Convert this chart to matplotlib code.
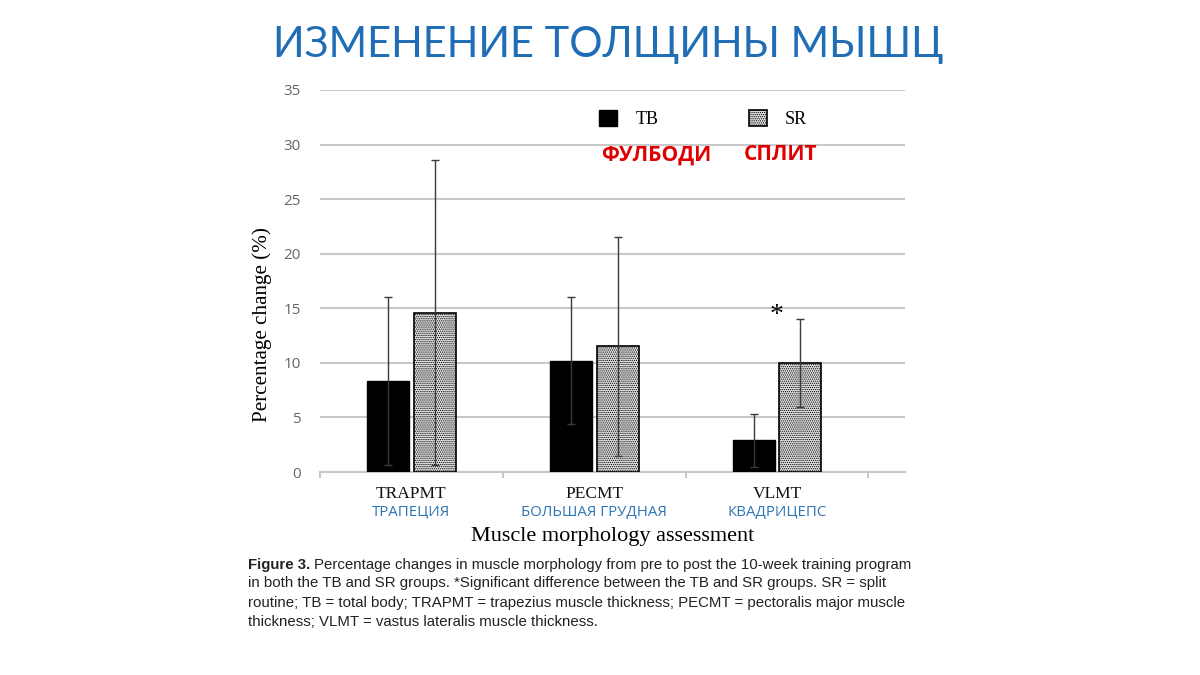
import numpy as np
import matplotlib.pyplot as plt
from matplotlib.transforms import blended_transform_factory

plt.rcParams['hatch.linewidth'] = 0.6

categories = ["TRAPMT", "PECMT", "VLMT"]
categories_ru = ["ТРАПЕЦИЯ", "БОЛЬШАЯ ГРУДНАЯ", "КВАДРИЦЕПС"]
tb_mean = [8.3, 10.2, 2.9]
tb_sd = [7.7, 5.8, 2.4]
sr_mean = [14.6, 11.5, 10.0]
sr_sd = [14.0, 10.0, 4.0]
yticks = [0, 5, 10, 15, 20, 25, 30, 35]

caption_first = "Percentage changes in muscle morphology from pre to post the 10-week training program"
caption_rest = ("in both the TB and SR groups. *Significant difference between the TB and SR groups. SR = split\n"
                "routine; TB = total body; TRAPMT = trapezius muscle thickness; PECMT = pectoralis major muscle\n"
                "thickness; VLMT = vastus lateralis muscle thickness.")

fig = plt.figure(figsize=(12, 6.75), dpi=100)
fig.patch.set_facecolor("white")

fig.text(0.507, 0.933, "ИЗМЕНЕНИЕ ТОЛЩИНЫ МЫШЦ", ha="center", va="center",
         fontsize=30, color="#1f6db5", family="Lato")

ax = fig.add_axes([0.2667, 0.3007, 0.4875, 0.566])
x = np.arange(len(categories))
w = 0.23
err_kw = dict(ecolor="#3a3a3a", elinewidth=1.0, capsize=3, capthick=1.0)
b1 = ax.bar(x - 0.128, tb_mean, w, yerr=tb_sd, color="black", edgecolor="black",
            error_kw=err_kw, label="TB", zorder=3)
b2 = ax.bar(x + 0.128, sr_mean, w, yerr=sr_sd, color="#e0e0e0", edgecolor="black",
            hatch="........", linewidth=1.2, error_kw=err_kw, label="SR", zorder=3)

ax.set_ylim(0, 35)
ax.set_xlim(-0.5, 2.7)
ax.set_yticks(yticks)
ax.yaxis.grid(True, color="#c9c9c9", linewidth=1.5, zorder=0)
ax.set_axisbelow(True)
for s in ["top", "right", "left"]:
    ax.spines[s].set_visible(False)
ax.spines["bottom"].set_color("#c9c9c9")
ax.spines["bottom"].set_linewidth(1.5)
ax.tick_params(axis="y", length=0, pad=14, labelsize=11, labelcolor="#666666")
for t in ax.get_yticklabels():
    t.set_family("Open Sans")
ax.set_xticks(x)
ax.set_xticklabels(categories, family="Liberation Serif", fontsize=12.5, color="#111111")
ax.tick_params(axis="x", length=0, pad=10)
ax.set_xticks([-0.5, 0.5, 1.5, 2.5], minor=True)
ax.tick_params(axis="x", which="minor", length=4, color="#c9c9c9", width=1.5)

trans = blended_transform_factory(ax.transData, ax.transAxes)
for xi, lab in zip(x, categories_ru):
    ax.text(xi, -0.105, lab, transform=trans, ha="center", va="center",
            fontsize=10.8, color="#2e75b6", family="Open Sans")

ax.set_ylabel("Percentage change (%)", family="Liberation Serif", fontsize=15.2)
ax.yaxis.set_label_coords(-0.082, 0.385)
ax.text(0.5, -0.17, "Muscle morphology assessment", transform=ax.transAxes,
        ha="center", va="center", family="Liberation Serif", fontsize=16)

ax.text(2.0, 14.3, "*", ha="center", va="center", fontsize=20, family="Liberation Serif")

leg = ax.legend(handles=[b1, b2], loc="center", bbox_to_anchor=(0.655, 0.924), ncol=2,
                frameon=False, handlelength=1.0, handleheight=1.0, columnspacing=5.0,
                handletextpad=1.0, prop={"family": "Liberation Serif", "size": 13})

ax.text(0.575, 0.83, "ФУЛБОДИ", transform=ax.transAxes, ha="center", va="center",
        fontsize=15, color="#e00000", weight="bold", family="Open Sans")
ax.text(0.787, 0.83, "СПЛИТ", transform=ax.transAxes, ha="center", va="center",
        fontsize=15, color="#e00000", weight="bold", family="Open Sans")

cap_font = "Liberation Sans"
fig_lbl = fig.text(0.2067, 1 - 565 / 675, "Figure 3.", fontsize=10.8, weight="bold",
                   family=cap_font, color="#222222", va="center")
ax.annotate(caption_first, xy=(1, 0.5), xycoords=fig_lbl, xytext=(3, 0),
            textcoords="offset points", va="center", ha="left", fontsize=10.8,
            family=cap_font, color="#222222", annotation_clip=False)
fig.text(0.2067, 1 - 576 / 675, caption_rest, fontsize=10.8, linespacing=1.5,
         family=cap_font, color="#222222", va="top")

fig.savefig("out.png", dpi=100)
